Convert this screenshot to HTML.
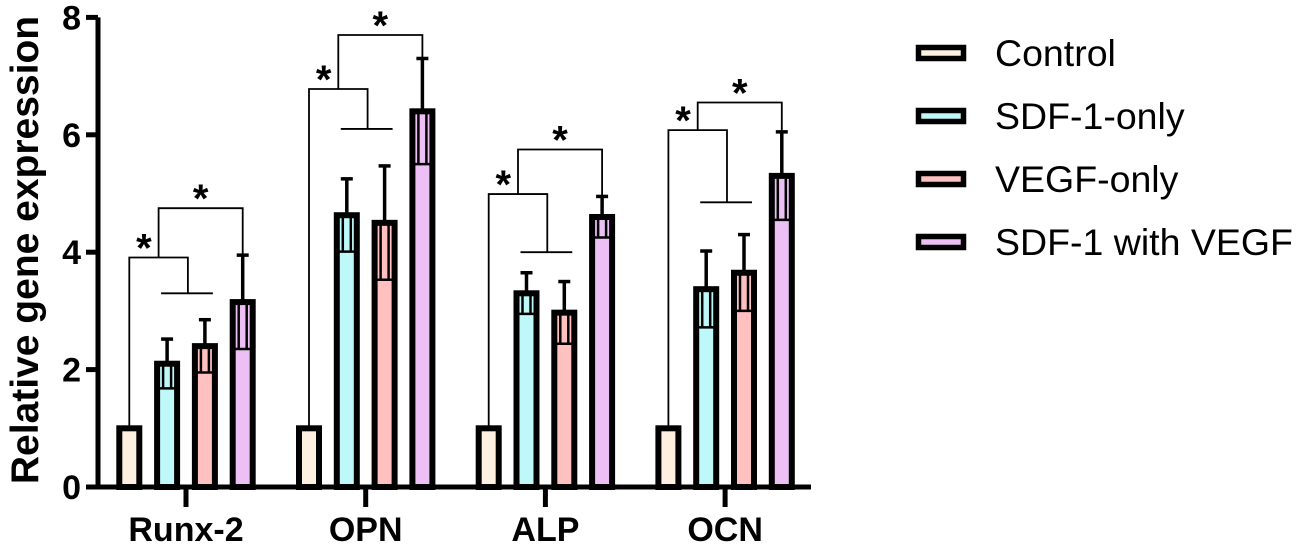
<!DOCTYPE html>
<html><head><meta charset="utf-8"><style>
html,body{margin:0;padding:0;background:#fff;width:1300px;height:549px;overflow:hidden}
svg text{font-family:"Liberation Sans",Arial,sans-serif}
</style></head><body>
<svg id="chart" width="1300" height="549" viewBox="0 0 1300 549"></svg>
<script>
const categories = ["Runx-2","OPN","ALP","OCN"];
const seriesNames = ["Control","SDF-1-only","VEGF-only","SDF-1 with VEGF"];
const seriesColors = ["#fdf0e0","#bff8f8","#ffc0c0","#ecc0f4"];
const controlVals = [1,1,1,1];
const sdfVals = [2.1,4.63,3.3,3.37];
const vegfVals = [2.4,4.5,2.97,3.65];
const comboVals = [3.15,6.4,4.6,5.3];
const sdfErr = [0.42,0.62,0.35,0.65];
const vegfErr = [0.45,0.97,0.53,0.65];
const comboErr = [0.8,0.9,0.35,0.75];
const yTicks = [0,2,4,6,8];
const bracketTop1 = [3.91,6.78,4.99,6.08];
const bracketInner = [3.3,6.1,4.0,4.85];
const bracketTop2 = [4.75,7.7,5.75,6.55];

const NS="http://www.w3.org/2000/svg";
const svg=document.getElementById('chart');
const y0=487, yPer=58.7, axisX=98;
function yS(v){return y0-v*yPer;}
function gX(i){return 186+i*179.7;}
function bX(i,s){return gX(i)+(s-1.5)*37.8;}
function mk(tag,attrs,parent){const e=document.createElementNS(NS,tag);for(const k in attrs)e.setAttribute(k,attrs[k]);(parent||svg).appendChild(e);return e;}
const series=[controlVals,sdfVals,vegfVals,comboVals];
const errs=[null,sdfErr,vegfErr,comboErr];

let ya=mk('line',{x1:axisX,y1:yS(8),x2:axisX,y2:y0+1.5,stroke:'#000','stroke-width':5});


let xa=mk('line',{x1:axisX-12,y1:y0,x2:811,y2:y0,stroke:'#000','stroke-width':5});


yTicks.forEach(t=>{
  let tl=mk('line',{x1:axisX-12,y1:yS(t),x2:axisX,y2:yS(t),stroke:'#000','stroke-width':5});
  
  
  let tx=mk('text',{x:axisX-17,y:yS(t)+12,'text-anchor':'end','font-size':34,'font-weight':'bold'});
  tx.textContent=t;
  
  
});
let yt=mk('text',{x:0,y:0,'text-anchor':'middle','font-size':39,'font-weight':'bold',transform:'translate(38,250) rotate(-90)'});
yt.textContent='Relative gene expression';



categories.forEach((c,i)=>{
  let tk=mk('line',{x1:gX(i),y1:y0,x2:gX(i),y2:y0+20,stroke:'#000','stroke-width':5});
  
  
  let lb=mk('text',{x:gX(i),y:541,'text-anchor':'middle','font-size':34,'font-weight':'bold'});
  lb.textContent=c;
  
  
  series.forEach((vals,s)=>{
    const v=vals[i], cx=bX(i,s);
    let r=mk('rect',{x:cx-10,y:yS(v),width:20,height:y0-yS(v),fill:seriesColors[s],stroke:'#000','stroke-width':6});
    
    
    if(errs[s]){
      const e=errs[s][i];
      let el=mk('line',{x1:cx,y1:yS(v+e),x2:cx,y2:yS(v),stroke:'#000','stroke-width':3.5});
      
      
      let cap=mk('line',{x1:cx-6,y1:yS(v+e),x2:cx+6,y2:yS(v+e),stroke:'#000','stroke-width':3.5});
      
      
      let il=mk('path',{d:`M${cx-4},${yS(v)} V${yS(v-e)} M${cx+4},${yS(v)} V${yS(v-e)} M${cx-9},${yS(v-e)} H${cx+9}`,stroke:'#000','stroke-width':2.5,fill:'none'});
      
      
    }
  });
  const x0=bX(i,0), x1=bX(i,1), x2=bX(i,2), x3=bX(i,3);
  const midIn=(x1+x2)/2+(x2-x1)*0.05;
  const t1=bracketTop1[i], ti=bracketInner[i], t2=bracketTop2[i];
  let b1=mk('path',{d:`M${x0},${yS(controlVals[i])} V${yS(t1)} H${midIn} V${yS(ti)} M${x1-6},${yS(ti)} H${x2+8}`,stroke:'#000','stroke-width':1.8,fill:'none'});
  
  
  const bm=(x0+midIn)/2;
  let b2=mk('path',{d:`M${bm},${yS(t1)} V${yS(t2)} H${x3} V${yS(comboVals[i]+comboErr[i])}`,stroke:'#000','stroke-width':1.8,fill:'none'});
  
  
  let s1=mk('text',{x:(x0+bm)/2,y:yS(t1)+4,'text-anchor':'middle','font-size':40,'font-weight':'bold'});
  s1.textContent='*';
  
  
  let s2=mk('text',{x:(bm+x3)/2,y:yS(t2)+4,'text-anchor':'middle','font-size':40,'font-weight':'bold'});
  s2.textContent='*';
  
  
});

seriesNames.forEach((n,s)=>{
  const cy=53+s*63;
  let g=mk('g',{});
  
  
  let r=mk('rect',{x:918.5,y:cy-5.5,width:45,height:11,fill:seriesColors[s],stroke:'#000','stroke-width':5.5},g);
  
  
  let t=mk('text',{x:995,y:cy+13,'font-size':37.5},g);
  t.textContent=n;
  
  
});
</script>
</body></html>
